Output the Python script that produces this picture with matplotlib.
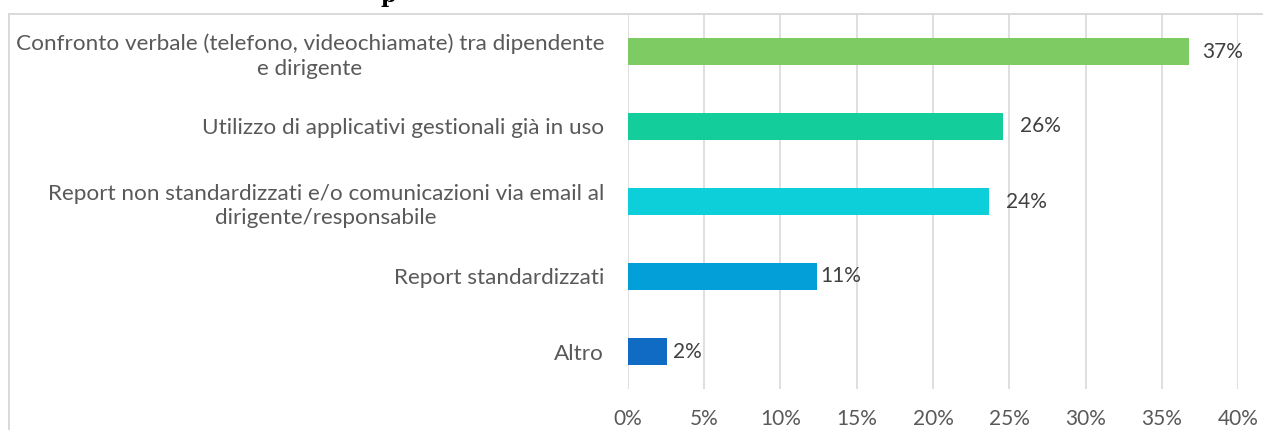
import matplotlib.pyplot as plt
from matplotlib.lines import Line2D
from matplotlib.ticker import FuncFormatter

categories = [
    "Confronto verbale (telefono, videochiamate) tra dipendente\ne dirigente",
    "Utilizzo di applicativi gestionali già in uso",
    "Report non standardizzati e/o comunicazioni via email al\ndirigente/responsabile",
    "Report standardizzati",
    "Altro",
]
values = [36.8, 24.6, 23.7, 12.4, 2.6]
value_labels = ["37%", "26%", "24%", "11%", "2%"]
bar_colors = ["#7dcb62", "#13ce9a", "#0ccfd9", "#039fd8", "#0f6bc4"]
label_gaps = [12.7, 16.6, 16.3, 3.3, 5.3]  # px between bar end and label
x_ticks = [0, 5, 10, 15, 20, 25, 30, 35, 40]

FONT = ["Lato", "DejaVu Sans"]
GRID = "#d9d9d9"
TEXT = "#595959"

plt.rcParams["font.family"] = FONT

fig = plt.figure(figsize=(12.63, 4.30), dpi=100)
ax = fig.add_axes([627.7 / 1263, 41 / 430, 610.6 / 1263, 375 / 430])

y_pos = list(range(len(categories)))
bars = ax.barh(y_pos, values, height=0.36, color=bar_colors, zorder=3)

for bar, text, gap in zip(bars, value_labels, label_gaps):
    ax.annotate(
        text,
        xy=(bar.get_width(), bar.get_y() + bar.get_height() / 2),
        xytext=(gap * 72 / 100, 0),
        textcoords="offset points",
        ha="left",
        va="center",
        fontsize=15,
        color="#404040",
    )

ax.set_xlim(0, 40)
ax.set_ylim(len(categories) - 0.5, -0.5)
ax.set_xticks(x_ticks)
ax.xaxis.set_major_formatter(FuncFormatter(lambda v, _: f"{v:.0f}%"))
ax.set_yticks(y_pos)
ax.set_yticklabels(categories)
for lab in ax.get_yticklabels():
    lab.set_multialignment("center")
    lab.set_linespacing(1.3)

ax.tick_params(axis="y", length=0, pad=17, labelsize=16.2, labelcolor=TEXT)
ax.tick_params(axis="x", length=0, pad=14.5, labelsize=15, labelcolor=TEXT)
ax.grid(axis="x", color=GRID, linewidth=1.2, zorder=0)
for side in ax.spines.values():
    side.set_visible(False)

# border of the chart area (cropped screenshot)
fig.add_artist(Line2D([9 / 1263, 1.0], [1 - 14 / 430, 1 - 14 / 430],
                      color=GRID, linewidth=1.4, transform=fig.transFigure))
fig.add_artist(Line2D([9 / 1263, 9 / 1263], [0.0, 1 - 14 / 430],
                      color=GRID, linewidth=1.4, transform=fig.transFigure))

# bottom of a cut-off title above the chart
fig.text(388 / 1263, 1 - 2 / 430, "p", family="DejaVu Serif", weight="bold",
         fontsize=16, ha="center", va="baseline", color="black")

fig.savefig("out.png", dpi=100)
